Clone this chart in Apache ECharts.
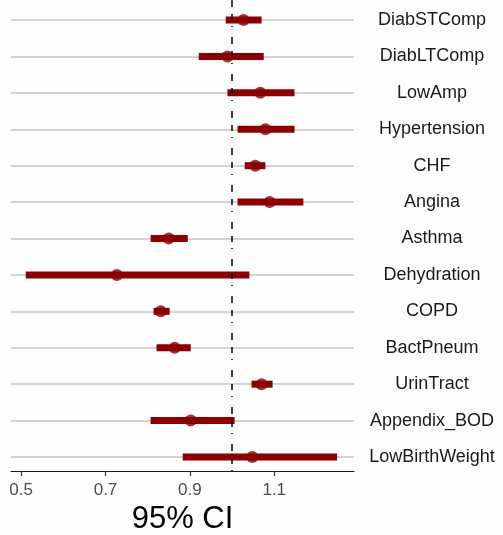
<!DOCTYPE html>
<html><head><meta charset="utf-8">
<script src="https://cdn.jsdelivr.net/npm/echarts@6/dist/echarts.min.js"></script>
<style>html,body{margin:0;padding:0;background:#fdfdfd}#c{width:503px;height:535px}</style>
</head><body><div id="c"></div>
<script>
// categories bottom to top
const categories = ['LowBirthWeight','Appendix_BOD','UrinTract','BactPneum','COPD','Dehydration','Asthma','Angina','CHF','Hypertension','LowAmp','DiabLTComp','DiabSTComp'];
const estimate = [1.048, 0.902, 1.070, 0.864, 0.831, 0.727, 0.850, 1.089, 1.055, 1.079, 1.067, 0.989, 1.027];
const lower    = [0.883, 0.807, 1.046, 0.821, 0.814, 0.511, 0.807, 1.013, 1.030, 1.013, 0.989, 0.921, 0.985];
const upper    = [1.249, 1.006, 1.096, 0.902, 0.852, 1.041, 0.895, 1.169, 1.079, 1.148, 1.148, 1.075, 1.070];
const xTicks = [0.5, 0.7, 0.9, 1.1];
const refValue = 1.0;

const idx = categories.map((_, i) => i);
const ciData = idx.map(i => [lower[i], upper[i], i]);
const ptData = idx.map(i => [estimate[i], i]);
const red = '#8b0000';
const font = 'Liberation Sans, Arial, sans-serif';

const chart = echarts.init(document.getElementById('c'), null, {renderer: 'canvas'});
chart.setOption({
  backgroundColor: '#fdfdfd',
  animation: false,
  grid: {left: 11, right: 149, top: 0, bottom: 64, containLabel: false, outerBoundsMode: 'none'},
  xAxis: {
    type: 'value', min: 0.476, max: 1.289,
    axisLine: {show: true, onZero: false, lineStyle: {color: '#1a1a1a', width: 1.2}},
    axisTick: {show: true, customValues: xTicks, length: 5, lineStyle: {color: '#333', width: 1.2}},
    axisLabel: {customValues: xTicks, color: '#4d4d4d', fontSize: 17, margin: 11,
      fontFamily: font, formatter: v => v.toFixed(1)},
    splitLine: {show: false},
    name: '95% CI', nameLocation: 'middle', nameGap: 33,
    nameTextStyle: {fontSize: 31, color: '#000', fontFamily: font}
  },
  yAxis: {
    type: 'value', position: 'right', min: -0.384, max: 12.55,
    axisLine: {show: false}, axisTick: {show: false}, splitLine: {show: false},
    axisLabel: {customValues: idx, align: 'center', margin: 78, fontSize: 18, color: '#1a1a1a',
      fontFamily: font,
      formatter: v => categories[Math.round(v)] || ''}
  },
  series: [
    {
      type: 'custom', data: ciData, z: 3,
      renderItem: (params, api) => {
        const a = api.coord([api.value(0), api.value(2)]);
        const b = api.coord([api.value(1), api.value(2)]);
        return {type: 'rect', shape: {x: a[0], y: a[1] - 3.5, width: b[0] - a[0], height: 7},
          style: {fill: red}};
      },
      markLine: {
        silent: true, symbol: 'none', label: {show: false}, z: 1,
        lineStyle: {color: '#c4c4c4', width: 1.5, type: 'solid'},
        data: idx.map(i => ({yAxis: i}))
      }
    },
    {
      type: 'scatter', data: ptData, symbol: 'circle', symbolSize: 12, z: 4,
      itemStyle: {color: red},
      markLine: {
        silent: true, symbol: 'none', label: {show: false}, z: 5,
        lineStyle: {color: '#000', width: 1.5, type: [1, 6, 6, 7, 7, 10]},
        data: [{xAxis: refValue}]
      }
    }
  ]
});
</script></body></html>
